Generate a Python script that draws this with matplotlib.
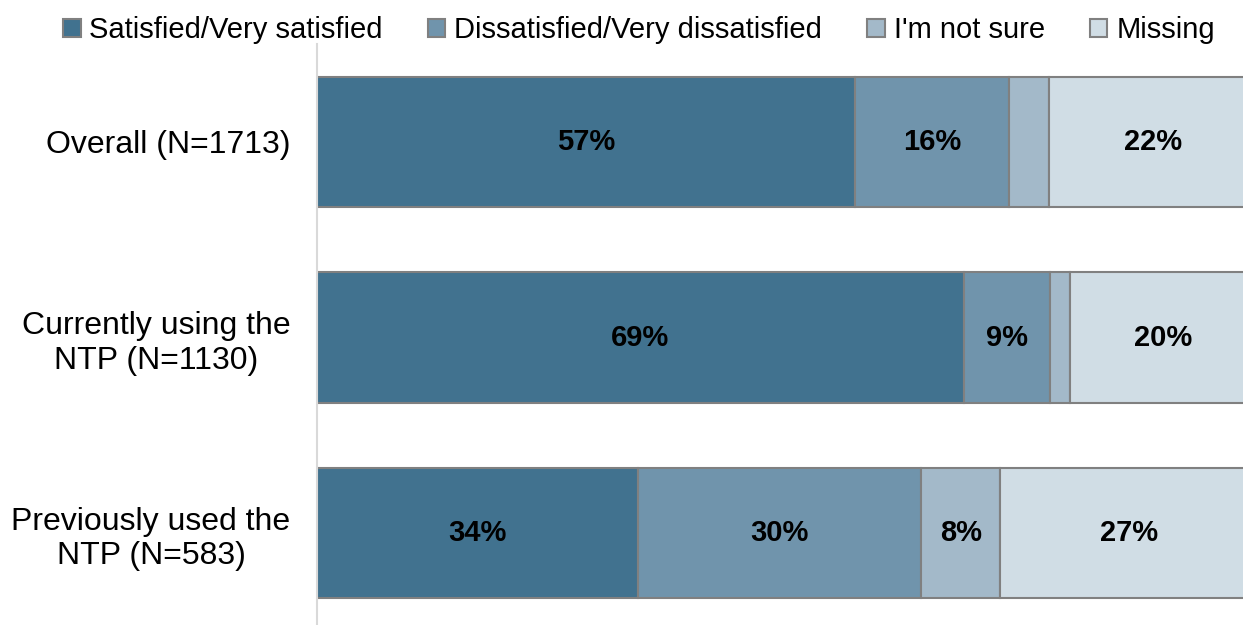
import matplotlib.pyplot as plt
import numpy as np

plt.rcParams['font.family'] = ['Liberation Sans', 'DejaVu Sans']

# rows, top to bottom
groups = ['Overall (N=1713)', 'Currently using the\nNTP (N=1130)', 'Previously used the\nNTP (N=583)']
series = ['Satisfied/Very satisfied', 'Dissatisfied/Very dissatisfied', "I'm not sure", 'Missing']
satisfied = [57.2, 68.8, 34.1]
dissatisfied = [16.4, 9.2, 30.2]
not_sure = [4.3, 2.1, 8.4]
missing = [22.1, 19.9, 27.3]
colors = ['#41728F', '#7094AC', '#A3B9C9', '#D0DDE5']

fig = plt.figure(figsize=(12.43, 6.25), dpi=100)
# bars run past the right edge of the picture, like the original crop
ax = fig.add_axes([317 / 1243, -0.0096, 940 / 1243, 0.9392])

y = np.arange(len(groups))
left = np.zeros(len(groups))
for name, vals, col in zip(series, [satisfied, dissatisfied, not_sure, missing], colors):
    vals = np.array(vals)
    ax.barh(y, vals, left=left, height=0.665, color=col, edgecolor='#808080',
            linewidth=1.5, label=name)
    for yi, l, v in zip(y, left, vals):
        if v >= 5:
            ax.text(l + v / 2, yi, f'{v:.0f}%', ha='center', va='center',
                    fontsize=21, fontweight='bold', color='black')
    left += vals

ax.set_xlim(0, 100)
ax.set_ylim(len(groups) - 0.5, -0.5)
ax.set_yticks(y)
ax.set_yticklabels(groups, fontsize=23, linespacing=1.2)
ax.tick_params(axis='y', length=0, pad=19)
ax.set_xticks([])
for s in ['top', 'right', 'bottom']:
    ax.spines[s].set_visible(False)
ax.spines['left'].set_color('#D9D9D9')
ax.spines['left'].set_linewidth(1.5)
for lab in ax.get_yticklabels():
    lab.set_multialignment('center')

handles, labels = ax.get_legend_handles_labels()
fig.legend(handles, labels, loc='upper center', bbox_to_anchor=(0.514, 1.016), ncol=4,
           frameon=False, fontsize=21, handlelength=0.6, handleheight=0.6,
           handletextpad=0.3, columnspacing=1.55)

fig.savefig('out.png', dpi=100)
